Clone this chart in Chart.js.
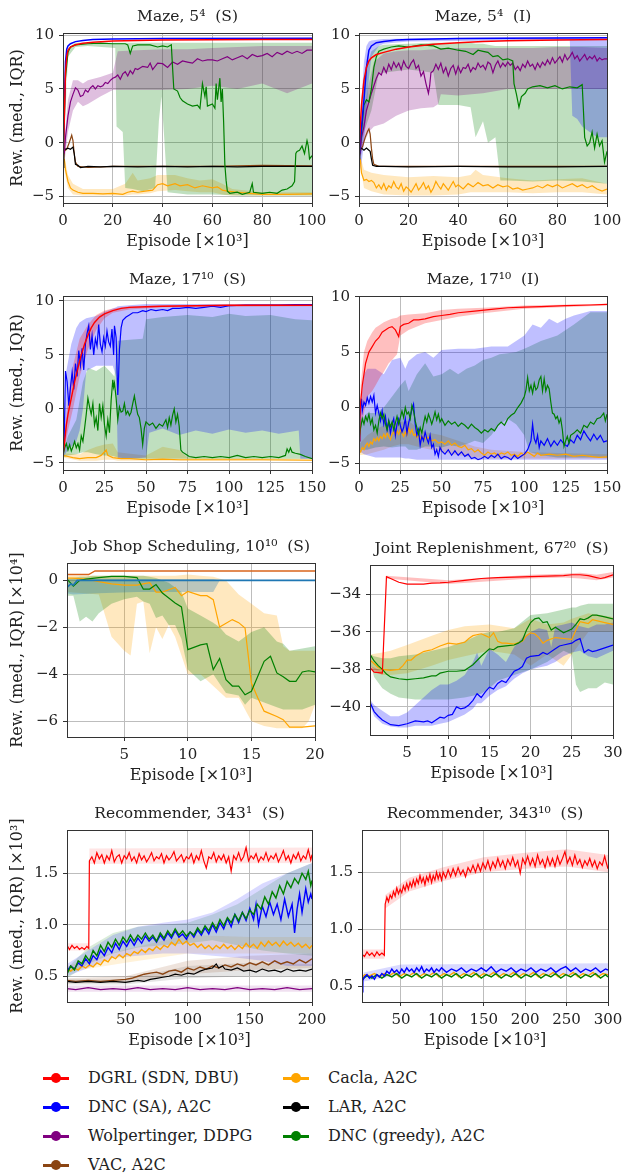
<!DOCTYPE html>
<html>
<head>
<meta charset="utf-8">
<script src="https://cdn.jsdelivr.net/npm/chart.js@4.4.1/dist/chart.umd.min.js"></script>
<style>
  html, body { margin: 0; padding: 0; background: #fff; }
  #page { position: relative; width: 630px; height: 1173px; overflow: hidden; font-family: 'DejaVu Serif', serif; color: #222; }
  #page canvas { position: absolute; }
  .leg { position: absolute; font-size: 16px; line-height: 20px; white-space: nowrap; }
  .leg .mk { position: absolute; left: 0; top: 0; width: 26px; height: 20px; }
  .leg .mk::before { content: ''; position: absolute; left: 0; right: 0; top: 9px; height: 2.5px; background: var(--c); }
  .leg .mk::after { content: ''; position: absolute; left: 8px; top: 5px; width: 10px; height: 10px; border-radius: 50%; background: var(--c); }
  .leg .txt { position: absolute; left: 45px; top: 0; }
</style>
</head>
<body>
<div id="page"></div>
<script>
// ---- ticks ----
const maze5XTicks = [0, 20, 40, 60, 80, 100];
const maze17XTicks = [0, 25, 50, 75, 100, 125, 150];
const mazeYTicks = [-5, 0, 5, 10];
const jssXTicks = [5, 10, 15, 20];
const jssYTicks = [-6, -4, -2, 0];
const jrXTicks = [5, 10, 15, 20, 25, 30];
const jrYTicks = [-40, -38, -36, -34];
const rec1XTicks = [50, 100, 150, 200];
const rec10XTicks = [50, 100, 150, 200, 250, 300];
const recYTicks = [0.5, 1.0, 1.5];

// ---- legend ----
const methodNames = ['DGRL (SDN, DBU)', 'DNC (SA), A2C', 'Wolpertinger, DDPG', 'VAC, A2C', 'Cacla, A2C', 'LAR, A2C', 'DNC (greedy), A2C'];

// ---- Maze 5^4 (S) : [episode, reward] / [episode, low, high] ----
const mz5S_red = [[0,-2.3],[0.5,2],[1,6.5],[1.5,8.0],[2,8.6],[3,8.9],[5,9.1],[8,9.25],[12,9.35],[20,9.45],[30,9.5],[40,9.55],[60,9.58],[80,9.6],[100,9.6]];
const mz5S_blue = [[0,-2.3],[0.5,3],[1,7.5],[1.5,8.7],[2,9.0],[3,9.2],[5,9.4],[8,9.5],[12,9.6],[20,9.65],[40,9.7],[100,9.72]];
const mz5S_purple = [[0.5,-1],[1,0.5],[2,2.5],[3,3.8],[4,4.5],[5,5.1],[6,4.9],[7,4.3],[8,4.4],[9,4.9],[10,4.7],[11,5.1],[12,5.3],[13,5.0],[14,5.3],[15,5.2],[16,5.3],[17,5.6],[18,5.5],[19,5.8],[20,6.0],[21,6.1],[22,6.3],[23,5.9],[24,6.4],[25,6.6],[26,6.2],[27,6.7],[28,6.4],[29,6.9],[30,6.8],[32,7.1],[34,7.0],[35,7.4],[36,6.8],[38,7.4],[40,7.35],[42,7.0],[44,7.5],[46,7.3],[48,7.6],[50,7.5],[52,7.4],[54,7.8],[56,7.6],[58,7.7],[60,7.7],[62,7.6],[64,7.8],[66,8.0],[68,7.7],[70,7.9],[72,8.1],[74,7.8],[76,8.2],[78,8.0],[80,8.1],[82,8.3],[84,8.0],[86,8.4],[88,8.2],[90,8.5],[92,8.3],[94,8.5],[96,8.3],[98,8.6],[100,8.6]];
const mz5S_green = [[0,-2.3],[1,6],[2,8.4],[3,8.9],[5,9.1],[10,9.2],[15,9.25],[20,9.2],[25,9.2],[26,9.1],[27,8.3],[28,9.0],[30,9.1],[35,9.1],[38,8.9],[40,9.0],[42,8.9],[43.5,9.1],[44,7],[44.5,5.0],[46,4.8],[47,4.2],[48,3.9],[50,3.6],[52,3.4],[54,3.5],[55,3.2],[56,5.5],[57,4.3],[57.5,5.2],[58,3.4],[60,3.6],[61,3.2],[61.5,5.5],[62,4.0],[63,6.0],[63.5,3.8],[64,5.0],[64.5,2],[65,-2.0],[65.5,-3.5],[66,-4.5],[67,-4.7],[70,-4.6],[72,-4.8],[75,-4.6],[76,-3.8],[76.5,-4.6],[80,-4.7],[83,-4.6],[86,-4.7],[88,-4.4],[90,-4.3],[92,-4.0],[93,-3.6],[93.5,-1.0],[94,-0.8],[95,-0.7],[96,-0.3],[97,-1.0],[98,0.2],[98.5,-0.3],[99,-1.5],[100,-1.2]];
const mz5S_orange = [[0.5,-1.5],[1,-2.5],[2,-3.6],[3,-4.2],[4,-4.4],[6,-4.6],[8,-4.7],[12,-4.7],[16,-4.75],[20,-4.7],[24,-4.8],[26,-4.6],[28,-4.5],[30,-4.6],[33,-4.5],[36,-4.4],[38,-3.9],[40,-3.8],[42,-4.0],[45,-3.8],[47,-4.0],[50,-3.9],[53,-4.2],[56,-4.0],[60,-4.2],[62,-4.1],[64,-4.4],[66,-4.5],[70,-4.6],[75,-4.7],[80,-4.8],[90,-4.8],[100,-4.75]];
const mz5S_black = [[0,-2.3],[0.3,-0.5],[1,-0.6],[2,-0.5],[3,-0.6],[4,-0.4],[4.5,-1.0],[5,-2.0],[6,-2.1],[7,-2.3],[10,-2.2],[15,-2.25],[20,-2.2],[30,-2.25],[40,-2.2],[50,-2.25],[60,-2.2],[70,-2.25],[80,-2.2],[90,-2.2],[100,-2.2]];
const mz5S_brown = [[0,-2.3],[0.5,-0.8],[1.5,-0.6],[2.5,0.0],[3.5,0.7],[4,0.2],[4.5,-1.0],[5,-1.8],[6,-2.2],[10,-2.3],[20,-2.2],[40,-2.2],[60,-2.2],[80,-2.1],[100,-2.15]];
const mz5S_purpleBand = [[0.5,-2,0],[2,1,4],[4,3,5.8],[6,3.8,5.8],[8,3.4,5.5],[10,3.6,5.8],[15,4.3,6.1],[20,4.9,6.5],[22,4.9,8.5],[30,4.9,8.6],[40,4.9,8.7],[50,5.0,8.7],[60,5.3,8.8],[70,5.0,8.9],[80,5.5,9.0],[90,4.6,9.0],[100,5.5,9.0]];
const mz5S_greenBand = [[0,-2.3,-2.3],[2,8.0,8.8],[5,8.9,9.3],[10,9.0,9.3],[21,8.8,9.3],[21.5,1.5,9.3],[24,1.0,9.3],[25,-4.2,9.3],[28,-4.3,9.3],[32,-4.5,9.3],[37,-4.2,9.3],[38.5,2.0,9.3],[39.5,4.3,9.3],[40.5,1.0,9.3],[42,-4.6,9.3],[50,-4.8,9.3],[60,-4.8,9.3],[70,-4.9,9.3],[80,-4.9,9.3],[90,-4.9,9.3],[100,-4.9,9.3]];
const mz5S_orangeBand = [[0.5,-2.5,-1.2],[2,-4.2,-3.0],[4,-4.8,-3.8],[8,-4.9,-4.3],[20,-4.9,-4.3],[25,-4.9,-3.8],[28,-4.8,-2.8],[30,-4.8,-3.5],[35,-4.7,-3.3],[38,-4.5,-3.0],[45,-4.4,-3.0],[50,-4.5,-3.3],[55,-4.6,-3.5],[60,-4.6,-3.4],[64,-4.8,-3.8],[68,-4.9,-4.3],[80,-4.9,-4.6],[100,-4.9,-4.6]];

// ---- Maze 5^4 (I) ----
const mz5I_red = [[0,-1.5],[0.5,1.5],[1,3.5],[2,5.8],[3,7.0],[4,7.6],[5,7.9],[7,8.2],[10,8.4],[15,8.7],[20,8.9],[30,9.15],[40,9.3],[50,9.4],[60,9.47],[80,9.55],[100,9.6]];
const mz5I_blue = [[0,-1.5],[0.5,0],[1,1.5],[2,4.0],[3,7.0],[4,8.6],[5,9.0],[7,9.3],[10,9.4],[15,9.55],[20,9.6],[30,9.65],[40,9.7],[100,9.75]];
const mz5I_green = [[0,-1.5],[1,1],[2,3.5],[3,4.0],[4,3.8],[5,5.0],[6,7.0],[7,8.0],[8,8.5],[10,8.7],[13,8.9],[16,9.0],[20,8.9],[25,9.1],[30,9.0],[33,8.7],[36,8.8],[40,8.6],[43,8.5],[46,8.2],[48,8.6],[50,8.5],[52,8.4],[54,8.0],[56,8.1],[58,7.7],[60,7.8],[62,7.6],[62.5,5.5],[63.5,4.5],[64.5,3.3],[65.5,4.3],[67,4.6],[68,5.0],[70,5.2],[73,5.3],[76,5.1],[79,5.3],[82,5.0],[85,5.2],[88,5.1],[90,5.4],[90.5,3],[91,0.5],[92,-0.3],[93,0],[94,1.0],[95,-0.5],[96,0.8],[97,-0.3],[98,0.2],[99,-1.8],[100,-0.8]];
const mz5I_purple = [[0.5,-1],[1,0.5],[2,1.5],[3,3],[4,3.8],[5,4.6],[6,5.3],[7,6.0],[8,6.5],[9,6.3],[10,7.0],[11,6.5],[12,7.3],[13,6.8],[14,7.5],[15,7.0],[16,7.4],[17,6.8],[18,7.6],[19,7.1],[20,6.9],[21,7.4],[22,7.7],[23,6.9],[24,7.2],[25,6.2],[26,6.6],[27,5.5],[28,4.6],[28.5,5.3],[29,6.5],[30,6.7],[31,7.3],[32,6.8],[33,7.4],[34,6.5],[35,7.0],[36,6.2],[37,6.9],[38,7.2],[39,6.4],[40,7.1],[41,6.5],[42,7.0],[43,6.9],[44,7.3],[45,6.6],[46,7.0],[47,6.8],[48,7.4],[49,7.0],[50,7.2],[51,6.8],[52,7.5],[53,7.3],[54,6.5],[55,7.2],[56,7.6],[57,7.0],[58,7.4],[59,7.1],[60,7.5],[61,7.2],[62,7.4],[63,6.8],[64,7.1],[65,6.7],[66,7.3],[67,7.0],[68,7.6],[69,7.1],[70,7.3],[71,6.8],[72,7.4],[73,7.0],[74,7.5],[75,7.2],[76,7.7],[77,7.3],[78,7.9],[79,7.4],[80,7.7],[81,8.0],[82,7.5],[83,8.2],[84,7.7],[85,8.0],[86,8.4],[87,7.8],[88,8.1],[89,7.6],[90,7.9],[91,8.2],[92,7.7],[93,8.0],[94,7.8],[95,8.1],[96,7.6],[97,7.9],[98,7.7],[99,7.8],[100,7.8]];
const mz5I_black = [[0,-1.5],[0.3,-0.6],[1,-0.5],[2,-0.7],[3,-0.5],[4,-0.7],[4.5,-0.8],[5,-1.5],[5.5,-2.1],[7,-2.2],[10,-2.2],[20,-2.25],[40,-2.2],[60,-2.25],[80,-2.25],[100,-2.2]];
const mz5I_brown = [[0,-1.5],[0.5,-0.8],[1.5,-0.3],[2.5,0.5],[3.5,1.1],[4,1.3],[4.5,0.8],[5,-0.5],[5.5,-1.5],[6,-2.0],[8,-2.2],[20,-2.2],[50,-2.2],[80,-2.2],[100,-2.2]];
const mz5I_orange = [[0.5,-1.5],[1,-2.8],[2,-3.5],[3,-3.4],[4,-3.6],[5,-3.5],[6,-3.7],[7,-4.2],[8,-3.9],[9,-4.3],[10,-3.8],[11,-4.4],[12,-4.0],[13,-4.2],[14,-3.6],[15,-4.1],[16,-4.3],[17,-3.8],[18,-4.5],[19,-4.1],[20,-4.3],[21,-4.6],[22,-4.2],[23,-3.8],[24,-4.4],[25,-4.1],[26,-3.7],[27,-4.3],[28,-4.0],[29,-4.6],[30,-4.2],[31,-3.6],[32,-4.0],[33,-4.3],[34,-3.8],[35,-4.1],[36,-4.4],[37,-4.0],[38,-3.6],[39,-4.1],[40,-3.9],[42,-4.3],[44,-3.8],[46,-4.1],[48,-3.7],[50,-4.0],[52,-3.9],[54,-4.2],[56,-3.9],[58,-4.1],[60,-4.0],[62,-4.3],[64,-4.2],[66,-4.4],[68,-4.3],[70,-4.2],[72,-4.0],[74,-4.2],[76,-3.9],[78,-4.1],[80,-3.9],[82,-4.2],[84,-4.0],[86,-3.8],[88,-4.1],[90,-3.9],[92,-4.2],[94,-4.0],[96,-4.3],[98,-4.5],[100,-4.3]];
const mz5I_blueBand = [[0,-3,-1],[1,-2,4],[2,0,7.5],[3,3,9.0],[4,6,9.4],[5,8,9.5],[8,9.0,9.6],[10,9.2,9.65],[20,9.4,9.7],[60,9.5,9.8],[85,9.5,9.8],[86,2.5,9.8],[88,2.2,9.8],[90,1.5,9.8],[93,1.0,9.8],[96,0.5,9.8],[100,0.5,9.8]];
const mz5I_greenBand = [[0,-1.5,-1.5],[2,1,6],[5,3,8.5],[8,6.5,9.0],[10,6.5,9.1],[20,6.8,9.2],[30,6.5,9.3],[32,3.5,9.3],[40,3.5,9.3],[45,3.3,9.3],[47,0.5,9.2],[50,2,9.2],[52,0,9.1],[55,0.5,9.0],[57,-3.5,9.0],[60,-3.5,9.0],[70,-3.6,9.0],[80,-3.5,9.0],[90,-3.6,9.0],[100,-3.8,9.0]];
const mz5I_purpleBand = [[0.5,-1.5,0],[2,0,3],[4,1,5.5],[6,1.5,7.5],[10,1.8,8.3],[15,2.5,8.5],[20,3.0,8.6],[25,3.2,8.6],[30,3.3,8.7],[32,3.6,8.7],[33,4.5,8.8],[40,4.4,8.8],[50,4.6,8.8],[60,5.0,8.8],[70,5.0,8.8],[80,5.0,8.9],[90,5.0,8.9],[100,5.0,8.8]];
const mz5I_orangeBand = [[0.5,-2,-1.2],[2,-4.2,-2.5],[5,-4.5,-2.8],[10,-4.8,-3.0],[20,-4.9,-3.2],[30,-4.9,-3.1],[40,-4.8,-3.2],[45,-4.6,-3.0],[47,-4.6,-2.5],[50,-4.6,-3.0],[60,-4.6,-3.3],[70,-4.7,-3.5],[80,-4.6,-3.4],[90,-4.6,-3.3],[100,-4.8,-3.8]];

// ---- Maze 17^10 (S) ----
const mz17S_red = [[0,-4.3],[1,-3],[2,-1.5],[3,-0.5],[5,1.0],[7,2.5],[9,3.8],[11,5.0],[13,6.0],[15,6.8],[17,7.5],[19,8.0],[22,8.5],[25,8.8],[30,9.1],[35,9.3],[40,9.4],[50,9.45],[60,9.5],[80,9.55],[100,9.6],[150,9.6]];
const mz17S_blue = [[0,-4.3],[0.7,-3],[1.5,3.5],[2.5,2.5],[3.5,0.3],[4.5,2.0],[5.5,3.4],[6.5,1.8],[7.5,4.2],[8.5,3.0],[9.5,5.4],[10.5,4.0],[11.5,5.6],[12.5,3.6],[13.5,6.0],[14.5,7.0],[15.5,7.7],[16.5,5.5],[17.5,6.8],[18.5,5.0],[19.5,6.5],[20.5,5.8],[21.5,7.8],[22.5,6.0],[23.5,5.3],[24.5,6.6],[25.5,5.8],[26.5,7.2],[27.5,6.2],[28.5,5.8],[29.5,7.4],[30.5,5.0],[31,7.7],[32,6.6],[33,1.3],[33.5,3.0],[34,5.5],[35,7.5],[36,8.2],[38,8.5],[40,8.7],[42,8.9],[45,8.9],[48,9.1],[50,9.0],[53,9.2],[56,9.1],[60,9.2],[63,9.1],[66,9.3],[70,9.3],[75,9.4],[80,9.3],[85,9.4],[90,9.5],[95,9.4],[100,9.55],[110,9.6],[120,9.6],[130,9.6],[140,9.65],[150,9.65]];
const mz17S_green = [[0,-4.3],[1,-3.6],[2,-3.2],[3,-3.8],[4,-3.3],[5,-3.9],[6,-3.5],[7,-3.0],[8,-3.6],[9,-3.2],[10,-3.8],[11,-2.5],[12,-3.0],[13,-1.8],[14,-0.5],[15,1.0],[16,0.2],[17,-0.5],[18,0.5],[19,-1.5],[20,-0.8],[21,-2.0],[22,0.5],[23,-0.8],[24,0.3],[25,-1.5],[26,-2.5],[27,-1.0],[28,-2.2],[29,0.8],[30,2.7],[30.5,2.0],[31,2.4],[32,1.0],[33,-1.0],[34,0.2],[35,-0.3],[36,-0.2],[37,0.5],[38,-0.5],[39,-0.2],[40,-0.6],[41,-0.3],[42,0.5],[43,1.2],[44,0.3],[45,-0.5],[46,-0.8],[47,-1.8],[48,-3.3],[49,-1.8],[50,-1.2],[52,-1.5],[54,-1.3],[56,-1.8],[58,-1.4],[60,-1.6],[62,-1.0],[63,-1.7],[64,-0.8],[65,-1.5],[66,-0.6],[67,0.0],[68,-1.2],[69,-0.5],[70,-1.6],[71,-3.8],[72,-4.0],[74,-4.2],[76,-4.4],[80,-4.5],[85,-4.4],[90,-4.5],[95,-4.4],[100,-4.5],[105,-4.3],[110,-4.5],[115,-4.4],[120,-4.5],[125,-4.4],[130,-4.5],[134,-4.3],[135,-3.7],[136,-4.0],[137,-3.6],[138,-4.0],[140,-4.1],[143,-4.2],[146,-4.4],[150,-4.6]];
const mz17S_orange = [[0,-4.3],[3,-4.4],[6,-4.5],[10,-4.6],[15,-4.5],[20,-4.5],[23,-4.3],[26,-3.8],[27,-4.3],[30,-4.5],[35,-4.6],[40,-4.6],[50,-4.7],[60,-4.65],[70,-4.7],[80,-4.7],[100,-4.7],[120,-4.7],[150,-4.75]];
const mz17S_redBand = [[0,-4.5,-4],[3,-2,1],[6,0,4],[10,3,6.5],[15,5.5,7.8],[20,7.3,8.7],[25,8.4,9.1],[30,8.9,9.3],[40,9.2,9.5],[60,9.4,9.6],[150,9.5,9.7]];
const mz17S_blueBand = [[0,-4.5,-4],[2,-4,3.5],[5,-3.5,6],[8,-3,7.5],[10,-2,8],[12,0,8.2],[14,3.5,8.4],[20,4.0,8.6],[25,4.0,9.0],[30,4.0,9.3],[32,3.0,9.4],[33,-4.6,9.5],[40,-4.6,9.6],[50,-4.5,9.7],[52,-2.2,9.7],[60,-1.8,9.7],[70,-2.4,9.7],[80,-2.0,9.7],[90,-2.3,9.7],[100,-1.9,9.7],[110,-2.2,9.7],[120,-2.0,9.7],[130,-2.3,9.7],[142,-2.0,9.7],[143,-4.6,9.7],[150,-4.6,9.7]];
const mz17S_greenBand = [[0,-4.5,-4],[3,-4.3,-2.5],[8,-4.2,-1.0],[12,-4.0,2.5],[15,-4.0,3.8],[20,-4.2,3.5],[25,-4.3,4.0],[28,-4.3,3.5],[31,-4.4,3.0],[33,-4.5,6.3],[40,-4.6,6.4],[48,-4.6,6.5],[50,-4.6,8.3],[60,-4.6,8.5],[75,-4.6,8.7],[90,-4.6,8.5],[100,-4.6,8.8],[110,-4.6,8.6],[125,-4.6,8.7],[140,-4.6,8.3],[150,-4.6,8.2]];
const mz17S_orangeBand = [[0,-4.5,-4.1],[10,-4.8,-4.2],[15,-4.8,-3.8],[20,-4.8,-3.5],[25,-4.7,-3.3],[30,-4.7,-3.2],[33,-4.8,-4.0],[50,-4.8,-4.3],[60,-4.8,-3.5],[70,-4.8,-3.8],[75,-4.8,-4.5],[150,-4.8,-4.6]];

// ---- Maze 17^10 (I) ----
const mz17I_red = [[0,-3],[0.5,-1],[1,0.5],[2,2.0],[3,3.0],[4,4.0],[5,4.5],[6,5.0],[8,5.5],[10,6.0],[12,6.3],[14,6.8],[16,7.0],[18,7.2],[20,7.3],[22,7.0],[24,6.4],[25,7.3],[27,7.5],[30,7.6],[33,7.9],[36,7.9],[40,8.0],[45,8.2],[50,8.3],[55,8.4],[60,8.55],[70,8.7],[80,8.85],[90,9.0],[100,9.05],[110,9.1],[125,9.2],[140,9.25],[150,9.3]];
const mz17I_blue = [[0,-3],[0.5,-1],[1,0.2],[1.5,0.8],[2,-0.3],[3,0.5],[4,0.2],[5,0.9],[6,0.4],[7,1.0],[8,0.5],[9,1.1],[10,-0.5],[11,0.2],[12,-0.5],[13,-1.2],[14,-0.3],[15,-1.5],[16,-0.8],[17,-2.0],[18,-1.2],[19,-2.3],[20,-1.5],[21,-1.0],[22,-2.5],[23,-1.5],[24,-1.0],[25,-1.6],[26,-2.2],[27,-1.8],[28,-1.0],[29,-2.3],[30,-1.4],[31,-0.8],[32,-0.2],[33,0.3],[34,-1.5],[35,-2.5],[36,-2.0],[37,-3.4],[38,-2.6],[39,-3.0],[40,-2.2],[41,-2.8],[42,-3.2],[43,-2.5],[44,-3.6],[45,-3.3],[46,-4.2],[47,-3.8],[48,-4.4],[49,-3.6],[50,-3.9],[52,-4.2],[54,-3.8],[56,-4.3],[58,-3.9],[60,-4.3],[62,-4.0],[64,-4.4],[66,-4.2],[68,-4.6],[70,-4.5],[72,-4.7],[74,-4.6],[76,-4.4],[78,-4.6],[80,-4.3],[82,-4.5],[84,-4.2],[86,-4.6],[88,-4.4],[90,-4.5],[92,-4.7],[94,-4.3],[96,-4.6],[98,-4.4],[100,-4.2],[102,-3.8],[104,-3.0],[105,-1.5],[106,-2.8],[107,-3.2],[108,-2.5],[109,-3.6],[110,-3.0],[112,-3.4],[114,-2.8],[116,-3.5],[118,-3.0],[120,-3.4],[122,-2.9],[124,-3.3],[126,-3.5],[128,-2.9],[130,-3.2],[132,-2.5],[134,-2.9],[136,-2.1],[138,-2.6],[140,-3.0],[142,-2.4],[144,-2.9],[146,-2.5],[148,-3.1],[150,-3.0]];
const mz17I_green = [[0,-3],[1,-1.8],[2,-1.0],[3,-1.5],[4,-0.8],[5,-1.2],[6,-0.6],[7,-1.5],[8,-1.0],[9,-2.0],[10,-1.6],[11,-2.3],[12,-1.2],[13,-0.5],[14,-1.0],[15,-0.6],[16,-1.5],[17,-2.0],[18,-1.2],[19,-1.7],[20,-1.3],[21,-2.0],[22,-1.4],[23,-0.8],[24,-1.5],[25,-0.9],[26,-0.3],[27,-0.9],[28,0.0],[29,-0.6],[30,-0.4],[31,-1.0],[32,0.2],[33,-0.3],[34,-1.2],[35,-1.8],[36,-2.4],[37,-1.8],[38,-2.3],[39,-1.5],[40,-0.8],[41,-1.3],[42,-0.6],[43,-1.0],[44,-1.5],[45,-1.0],[46,-0.4],[47,-1.1],[48,-0.6],[49,-1.3],[50,-1.0],[52,-1.6],[54,-1.2],[56,-1.5],[58,-1.3],[60,-1.7],[62,-1.4],[64,-1.6],[66,-1.9],[68,-1.5],[70,-1.8],[72,-2.0],[74,-2.3],[76,-2.0],[78,-2.2],[80,-1.9],[82,-2.1],[84,-1.6],[86,-1.3],[88,-1.6],[90,-1.0],[92,-0.7],[94,-0.5],[96,0.0],[98,0.4],[100,1.0],[101,1.6],[102,2.7],[103,1.5],[104,2.0],[105,1.3],[106,2.2],[107,1.6],[108,1.8],[109,2.5],[110,2.8],[111,1.5],[112,2.6],[113,1.5],[114,2.0],[115,1.7],[116,0.5],[117,-0.5],[118,-0.6],[119,-1.0],[120,-0.8],[121,-1.4],[122,-1.0],[123,-2.0],[124,-3.5],[125,-3.0],[126,-2.6],[127,-3.2],[128,-2.5],[130,-2.3],[132,-2.0],[134,-2.3],[136,-1.6],[138,-1.8],[140,-1.3],[142,-1.5],[144,-1.0],[146,-0.9],[148,-0.5],[149,-1.2],[150,-0.6]];
const mz17I_orange = [[0,-3.8],[1,-4.0],[2,-3.6],[3,-3.8],[4,-3.4],[5,-3.2],[6,-3.5],[7,-3.1],[8,-3.3],[9,-2.8],[10,-3.0],[11,-2.7],[12,-3.0],[13,-2.6],[14,-2.8],[15,-2.4],[16,-2.7],[17,-2.3],[18,-2.6],[19,-2.9],[20,-2.4],[21,-2.2],[22,-2.5],[23,-2.1],[24,-2.4],[25,-2.0],[26,-2.3],[27,-2.6],[28,-2.2],[29,-2.5],[30,-1.8],[31,-2.3],[32,-2.0],[33,-2.5],[34,-2.4],[35,-2.7],[36,-2.5],[37,-2.8],[38,-2.6],[40,-2.8],[42,-2.7],[44,-3.0],[46,-2.9],[48,-3.2],[50,-3.1],[52,-3.3],[54,-3.0],[56,-3.4],[58,-3.2],[60,-3.5],[62,-3.6],[64,-3.4],[66,-3.8],[68,-3.7],[70,-4.0],[72,-3.8],[74,-4.1],[76,-4.3],[78,-4.0],[80,-4.2],[82,-4.1],[84,-4.3],[86,-4.1],[88,-4.2],[90,-4.0],[92,-4.3],[94,-4.2],[96,-4.4],[98,-4.1],[100,-4.3],[102,-4.0],[104,-4.2],[106,-4.4],[108,-4.1],[110,-4.3],[115,-4.2],[120,-4.3],[125,-4.2],[130,-4.4],[135,-4.3],[140,-4.4],[145,-4.5],[150,-4.45]];
const mz17I_redBand = [[0,-3.5,-2.5],[1,-2,2],[3,-0.5,5.0],[5,1.0,6.0],[8,1.5,6.8],[10,2.0,7.2],[13,2.8,7.5],[15,3.2,7.7],[18,4.0,7.9],[20,4.3,8.0],[23,4.8,8.1],[25,6.5,8.3],[30,7.0,8.4],[40,7.6,8.5],[50,7.9,8.8],[60,8.2,8.9],[75,8.5,9.0],[100,8.9,9.2],[150,9.2,9.35]];
const mz17I_blueBand = [[0,-3.5,-2.5],[1,-4,0],[3,-4.2,3.0],[5,-4.3,3.5],[10,-4.5,3.5],[15,-4.5,3.0],[20,-4.5,4.3],[25,-4.5,4.5],[28,-4.6,3.5],[30,-4.6,4.2],[35,-4.7,4.8],[40,-4.7,5.0],[45,-4.7,4.5],[50,-4.7,5.2],[60,-4.7,5.3],[70,-4.7,5.3],[80,-4.7,5.5],[90,-4.7,5.5],[95,-4.7,6.0],[100,-4.7,6.5],[105,-4.7,7.5],[110,-4.7,7.2],[115,-4.7,8.0],[120,-4.7,7.6],[125,-4.7,8.0],[130,-4.7,8.3],[135,-4.7,8.5],[140,-4.7,8.7],[150,-4.7,8.7]];
const mz17I_greenBand = [[0,-4,-2.5],[2,-3.8,-1.0],[5,-3.8,-0.5],[10,-3.6,-0.5],[15,-3.5,0],[20,-3.6,1.0],[25,-3.5,2.0],[28,-3.5,2.5],[30,-3.8,1.5],[35,-3.8,3.0],[40,-3.5,4.0],[45,-3.5,2.8],[50,-3.6,3.0],[55,-3.4,3.5],[60,-3.5,3.0],[65,-3.3,3.5],[70,-3.0,3.8],[75,-3.2,4.3],[80,-2.5,4.5],[85,-1.5,4.8],[90,-1.0,4.9],[95,-1.5,5.0],[100,-2.5,5.3],[103,-4.0,5.5],[110,-4.3,6.0],[120,-4.5,6.5],[130,-4.5,7.5],[140,-4.5,8.6],[150,-4.5,8.6]];
const mz17I_orangeBand = [[0,-4.3,-3.3],[5,-4.2,-2.5],[10,-4.0,-2.0],[15,-3.8,-1.6],[20,-3.5,-1.5],[25,-3.3,-1.3],[30,-3.3,-1.2],[35,-3.5,-1.8],[40,-3.7,-2.2],[50,-4.0,-2.5],[60,-4.3,-3.0],[70,-4.5,-3.5],[80,-4.6,-3.8],[100,-4.6,-4.0],[150,-4.6,-4.2]];

// ---- Job Shop Scheduling 10^10 (S), reward x 10^4 ----
const jss_ref1 = [[0.5,0.25],[2.2,0.25],[2.7,0.4],[20,0.4]];
const jss_ref0 = [[0.5,-0.3],[0.8,-0.15],[1.0,-0.2],[1.3,0.0],[20,0.0]];
const jss_ref0Band = [[0.5,-0.55,0.05],[1,-0.6,0.05],[3,-0.55,0.05],[6,-0.5,0.05],[9,-0.5,0.05],[12,-0.5,0.05],[12.5,0,0],[20,0,0]];
const jss_green = [[0.5,0.05],[1,-0.25],[1.5,0],[2,0.05],[3,0.12],[4,0.17],[5,0.17],[6,0.12],[6.5,-0.37],[7,-0.37],[7.5,-0.18],[8,-0.54],[8.5,-0.75],[9,-0.96],[9.5,-1.13],[10,-2.95],[11,-2.75],[11.5,-2.7],[12,-3.8],[12.5,-3.33],[13,-4.23],[13.5,-4.5],[14,-4.5],[14.5,-4.87],[15,-4.72],[16,-3.45],[16.5,-3.23],[17,-3.94],[17.5,-4.1],[18,-4.3],[18.5,-4.3],[19,-3.9],[19.5,-3.85],[20,-3.9]];
const jss_orange = [[0.5,0.1],[1,0.1],[2,0.05],[3,-0.05],[4,-0.15],[5,-0.2],[6,-0.2],[6.5,-0.15],[7,-0.1],[7.5,-0.5],[8,-0.5],[8.5,-0.4],[9,-0.3],[9.5,-0.65],[10,-0.47],[11,-0.65],[11.5,-0.65],[12,-0.82],[12.5,-1.99],[13.5,-1.67],[14,-1.8],[14.5,-2.03],[15,-4.37],[15.5,-5.0],[16,-5.57],[17,-5.8],[17.5,-5.93],[18,-6.25],[19,-6.25],[20,-6.2]];
const jss_greenBand = [[0.5,-0.65,0.05],[1,-0.65,0.1],[1.5,-1.75,0.15],[2,-1.55,0.15],[2.5,-1.75,0.2],[3,-1.4,0.2],[4,-1.0,0.2],[5,-0.8,0.2],[6,-0.7,0.2],[6.5,-0.9,0.2],[7,-1.0,0.15],[7.5,-1.6,0.1],[8,-1.5,0.0],[8.5,-1.9,-0.1],[9,-1.9,-0.3],[9.5,-2.5,-0.5],[10,-3.8,-1.2],[11,-4.3,-1.5],[12,-4.0,-1.8],[12.5,-4.4,-2.0],[13,-4.8,-2.3],[14,-4.9,-2.6],[14.5,-5.3,-2.4],[15,-5.0,-2.2],[16,-5.2,-2.0],[17,-5.4,-2.6],[17.5,-5.5,-2.7],[18,-5.5,-3.0],[19,-5.5,-2.9],[20,-5.3,-2.8]];
const jss_orangeBand = [[0.5,-0.5,0.2],[3,-0.6,0.2],[4,-2.4,0.2],[5,-3.0,0.2],[5.5,-3.2,0.2],[6,-1.0,0.2],[6.5,-0.9,0.2],[7,-3.1,0.2],[7.5,-2.0,0.2],[8,-2.5,0.2],[8.5,-1.9,0.2],[9,-2.4,0.2],[10,-4.0,0.25],[11,-4.0,0.2],[12,-4.5,0.15],[13,-5.0,0.0],[14,-5.0,-0.6],[15,-6.0,-1.0],[16,-6.2,-1.4],[17,-6.3,-1.5],[17.5,-6.3,-2.8],[18,-6.3,-3.0],[19,-6.3,-3.0],[19.5,-6.0,-3.0],[20,-5.3,-3.0]];

// ---- Joint Replenishment 67^20 (S) ----
const jr_red = [[0.5,-37.9],[1,-38.15],[2,-38.2],[2.5,-33.05],[3,-33.15],[4,-33.35],[5,-33.45],[6,-33.45],[7,-33.45],[8,-33.4],[9,-33.38],[10,-33.35],[12,-33.25],[14,-33.15],[16,-33.1],[18,-33.08],[20,-33.05],[22,-33.02],[24,-33.0],[25,-32.95],[26,-32.95],[27,-33.0],[28,-33.1],[28.5,-33.15],[29,-33.1],[30,-32.95]];
const jr_blue = [[0.5,-39.75],[1,-40.25],[1.5,-40.5],[2,-40.7],[3,-40.95],[4,-41.0],[5,-40.9],[6,-40.75],[7,-40.8],[7.5,-40.75],[8,-40.85],[8.5,-40.7],[9,-40.55],[9.5,-40.6],[10,-40.45],[10.5,-40.4],[11,-40.0],[11.5,-40.1],[12,-40.05],[12.5,-39.9],[13,-39.65],[13.5,-39.3],[14,-39.5],[14.5,-39.2],[15,-38.95],[15.5,-39.05],[16,-38.75],[16.5,-38.6],[17,-38.7],[17.5,-38.4],[18,-38.1],[18.5,-38.0],[19,-37.85],[19.5,-37.4],[20,-37.3],[21,-37.25],[21.5,-37.1],[22,-37.2],[23,-36.9],[23.5,-36.75],[24,-36.7],[25,-36.6],[25.5,-36.45],[26,-36.35],[26.5,-37.1],[27,-36.95],[27.5,-37.05],[28,-37.0],[29,-36.85],[30,-36.7]];
const jr_green = [[0.5,-37.2],[1,-37.55],[1.5,-37.8],[2,-38.0],[2.5,-38.25],[3,-38.4],[4,-38.5],[5,-38.55],[6,-38.5],[7,-38.45],[8,-38.35],[8.5,-38.35],[9,-38.2],[10,-38.1],[11,-38.1],[12,-38.05],[12.5,-37.9],[13,-37.75],[14,-37.3],[15,-36.9],[15.5,-36.95],[16,-36.8],[17,-36.75],[18,-36.7],[18.5,-36.6],[19,-36.45],[19.5,-35.9],[20,-35.5],[20.5,-35.3],[21,-35.25],[21.5,-35.5],[22,-35.45],[22.5,-35.9],[23,-35.75],[24,-36.05],[25,-35.85],[25.5,-35.6],[26,-35.3],[26.5,-35.35],[27,-35.25],[27.5,-35.1],[28,-35.1],[29,-35.2],[30,-35.3]];
const jr_orange = [[0.5,-37.5],[1,-37.7],[1.5,-37.9],[2,-38.0],[3,-38.05],[4,-38.0],[4.5,-37.8],[5,-37.5],[5.5,-37.5],[6,-37.3],[7,-37.05],[7.5,-37.0],[8,-36.95],[9,-36.75],[10,-36.6],[11,-36.65],[12,-36.55],[12.5,-36.35],[13,-36.2],[14,-36.1],[14.5,-36.2],[15,-36.3],[15.5,-36.05],[16,-36.5],[16.5,-36.6],[17,-36.6],[18,-36.65],[19,-36.5],[19.5,-36.2],[20,-36.05],[20.5,-36.1],[21,-36.3],[21.5,-36.6],[22,-36.45],[23,-36.3],[24,-36.35],[25,-36.4],[25.5,-35.9],[26,-35.45],[26.5,-35.5],[27,-35.55],[27.5,-35.35],[28,-35.4],[29,-35.5],[30,-35.6]];
const jr_redBand = [[0.5,-38.0,-37.8],[2,-38.3,-38.1],[2.5,-33.15,-33.0],[10,-33.45,-33.25],[20,-33.15,-32.95],[24,-33.1,-32.9],[26,-33.15,-32.85],[28,-33.25,-32.95],[30,-33.1,-32.8]];
const jr_blueBand = [[0.5,-39.9,-39.6],[1,-40.5,-39.9],[2,-40.9,-40.2],[3,-41.05,-40.5],[4,-41.1,-40.5],[5,-41.1,-40.3],[6,-41.0,-39.9],[7,-41.0,-39.5],[8,-41.0,-39.1],[9,-40.9,-38.8],[10,-40.8,-38.8],[11,-40.6,-38.6],[12,-40.4,-38.3],[13,-40.1,-37.6],[13.5,-39.8,-37.1],[14,-39.8,-37.8],[15,-39.4,-36.9],[16,-39.1,-37.2],[17,-38.9,-37.6],[18,-38.5,-36.8],[19,-38.2,-36.3],[20,-38.0,-36.0],[21,-37.9,-35.8],[22,-37.8,-35.9],[22.5,-37.7,-36.8],[23,-37.6,-35.7],[24,-37.3,-35.6],[25,-37.1,-35.5],[26,-37.0,-35.7],[27,-37.3,-35.8],[28,-37.4,-35.6],[29,-37.2,-35.6],[30,-37.0,-35.5]];
const jr_greenBand = [[0.5,-37.6,-37.2],[1,-38.4,-37.3],[2,-39.0,-37.4],[3,-39.3,-37.4],[4,-39.5,-37.3],[6,-39.6,-37.2],[8,-39.6,-37.0],[10,-39.6,-36.8],[12,-39.5,-36.5],[13,-39.4,-36.3],[14,-39.3,-36.1],[15,-39.0,-36.0],[16,-38.6,-36.0],[18,-38.3,-35.8],[20,-38.0,-35.1],[22,-37.6,-35.0],[24,-37.0,-34.8],[25,-37.2,-34.7],[25.5,-38.8,-34.7],[26,-39.2,-34.6],[27,-39.0,-34.5],[28,-39.0,-34.5],[29,-38.7,-34.5],[30,-38.8,-34.5]];
const jr_orangeBand = [[0.5,-37.8,-37.2],[2,-38.3,-37.1],[3,-38.3,-37.0],[5,-38.2,-36.7],[8,-37.8,-36.2],[10,-37.5,-35.9],[12,-37.3,-35.7],[15,-37.0,-35.6],[18,-37.2,-35.8],[20,-37.8,-35.3],[22,-37.2,-35.6],[24,-37.8,-35.5],[25,-37.2,-35.3],[27,-36.0,-35.0],[30,-36.0,-35.2]];

// ---- Recommender 343^1 (S), reward x 10^3 ----
const rec1_red = [[3,0.8],[5,0.76],[7,0.8],[9,0.77],[11,0.79],[13,0.76],[15,0.78],[17,0.76],[19,0.79],[20.5,0.77],[21,1.62],[23,1.66],[25,1.6],[27,1.7],[29,1.64],[31,1.68],[33,1.6],[35,1.67],[37,1.63],[39,1.72],[41,1.61],[43,1.66],[45,1.68],[47,1.6],[49,1.67],[51,1.64],[53,1.7],[55,1.62],[57,1.66],[59,1.6],[61,1.69],[63,1.63],[65,1.67],[67,1.61],[69,1.65],[71,1.7],[73,1.62],[75,1.66],[77,1.64],[79,1.69],[81,1.6],[83,1.67],[85,1.63],[87,1.66],[89,1.71],[91,1.62],[93,1.65],[95,1.68],[97,1.61],[99,1.66],[101,1.64],[103,1.69],[105,1.6],[107,1.67],[109,1.63],[111,1.72],[113,1.62],[115,1.55],[117,1.66],[119,1.64],[121,1.7],[123,1.61],[125,1.67],[127,1.63],[129,1.68],[131,1.6],[133,1.66],[135,1.52],[137,1.67],[139,1.63],[141,1.7],[143,1.62],[145,1.66],[147,1.75],[149,1.62],[151,1.67],[153,1.64],[155,1.69],[157,1.61],[159,1.66],[161,1.63],[163,1.7],[165,1.62],[167,1.67],[169,1.64],[171,1.69],[173,1.61],[175,1.66],[177,1.72],[179,1.63],[181,1.67],[183,1.6],[185,1.68],[187,1.64],[189,1.7],[191,1.62],[193,1.67],[195,1.64],[197,1.73],[199,1.63],[200,1.68]];
const rec1_blue = [[3,0.55],[6,0.6],[9,0.57],[12,0.63],[15,0.6],[18,0.67],[21,0.62],[24,0.7],[27,0.66],[30,0.75],[33,0.7],[36,0.78],[39,0.73],[42,0.82],[45,0.76],[48,0.84],[51,0.79],[54,0.86],[57,0.8],[60,0.87],[63,0.82],[66,0.89],[69,0.84],[72,0.88],[75,0.83],[78,0.9],[81,0.85],[84,0.92],[87,0.87],[90,0.94],[93,0.88],[96,0.91],[99,0.86],[102,0.93],[105,0.88],[108,0.95],[111,0.9],[114,0.97],[117,0.91],[120,1.0],[123,0.93],[126,1.02],[129,0.96],[132,1.06],[135,0.98],[138,1.1],[141,1.02],[144,1.12],[147,1.04],[150,1.16],[153,1.05],[155,1.2],[157,1.0],[160,1.18],[163,1.08],[166,1.22],[169,1.1],[172,1.2],[175,1.05],[178,1.25],[181,1.08],[184,1.2],[186,0.92],[188,1.15],[190,1.3],[192,1.12],[195,1.35],[197,1.22],[199,1.3],[200,1.25]];
const rec1_green = [[3,0.52],[6,0.6],[9,0.56],[12,0.65],[15,0.62],[18,0.7],[21,0.65],[24,0.75],[27,0.7],[30,0.8],[33,0.74],[36,0.83],[39,0.78],[42,0.86],[45,0.8],[48,0.88],[51,0.83],[54,0.9],[57,0.84],[60,0.9],[63,0.86],[66,0.92],[69,0.86],[72,0.9],[75,0.84],[78,0.92],[81,0.87],[84,0.94],[87,0.89],[90,0.96],[93,0.9],[96,0.94],[99,0.89],[102,0.93],[105,0.9],[108,0.97],[111,0.92],[114,0.99],[117,0.94],[120,1.02],[123,0.96],[126,1.05],[129,0.99],[132,1.07],[135,1.02],[138,1.1],[141,1.04],[144,1.12],[147,1.06],[150,1.14],[153,1.1],[156,1.2],[159,1.15],[162,1.27],[165,1.2],[168,1.32],[171,1.26],[174,1.38],[177,1.3],[180,1.42],[183,1.36],[186,1.45],[189,1.4],[192,1.5],[195,1.44],[197,1.52],[199,1.38],[200,1.43]];
const rec1_orange = [[3,0.57],[6,0.55],[9,0.58],[12,0.56],[15,0.6],[18,0.58],[21,0.61],[24,0.59],[27,0.63],[30,0.61],[33,0.66],[36,0.64],[39,0.69],[42,0.67],[45,0.71],[48,0.68],[51,0.72],[54,0.7],[57,0.74],[60,0.72],[63,0.76],[66,0.73],[69,0.77],[72,0.75],[75,0.79],[78,0.76],[81,0.8],[84,0.78],[87,0.83],[90,0.8],[93,0.86],[96,0.81],[99,0.84],[102,0.8],[105,0.82],[108,0.78],[111,0.81],[114,0.77],[117,0.8],[120,0.76],[123,0.8],[126,0.77],[129,0.81],[132,0.77],[135,0.8],[138,0.76],[141,0.8],[144,0.77],[147,0.82],[150,0.78],[153,0.81],[156,0.77],[159,0.83],[162,0.79],[165,0.84],[168,0.8],[171,0.83],[174,0.79],[177,0.84],[180,0.8],[183,0.83],[186,0.79],[189,0.82],[192,0.78],[195,0.81],[198,0.77],[200,0.8]];
const rec1_brown = [[3,0.46],[10,0.45],[20,0.46],[30,0.45],[40,0.46],[50,0.47],[55,0.48],[60,0.5],[65,0.52],[70,0.53],[75,0.54],[80,0.52],[85,0.55],[90,0.56],[95,0.54],[100,0.58],[105,0.56],[110,0.59],[115,0.57],[120,0.6],[125,0.58],[130,0.61],[135,0.59],[140,0.62],[145,0.6],[150,0.63],[155,0.61],[160,0.64],[165,0.61],[170,0.65],[175,0.62],[180,0.64],[185,0.62],[190,0.66],[195,0.63],[200,0.67]];
const rec1_black = [[3,0.45],[10,0.44],[20,0.45],[30,0.44],[40,0.45],[50,0.44],[55,0.45],[60,0.46],[65,0.45],[70,0.47],[75,0.48],[80,0.49],[85,0.5],[90,0.52],[95,0.51],[100,0.53],[105,0.52],[110,0.55],[115,0.57],[120,0.58],[123,0.62],[125,0.58],[128,0.6],[130,0.57],[135,0.56],[140,0.58],[145,0.55],[150,0.56],[155,0.54],[160,0.57],[165,0.55],[170,0.56],[175,0.54],[180,0.57],[185,0.55],[190,0.56],[195,0.55],[200,0.57]];
const rec1_purple = [[3,0.38],[10,0.37],[20,0.39],[30,0.37],[40,0.38],[50,0.37],[60,0.39],[70,0.37],[80,0.38],[90,0.37],[100,0.39],[110,0.37],[120,0.38],[130,0.37],[140,0.39],[150,0.37],[160,0.38],[170,0.37],[180,0.39],[190,0.37],[200,0.38]];
const rec1_redBand = [[3,0.75,0.82],[20.5,0.75,0.82],[21,1.59,1.74],[200,1.6,1.75]];
const rec1_blueBand = [[3,0.5,0.62],[20,0.58,0.75],[40,0.68,0.9],[60,0.7,0.98],[80,0.72,1.02],[100,0.72,1.05],[120,0.7,1.12],[140,0.68,1.25],[160,0.65,1.4],[180,0.6,1.5],[200,0.6,1.6]];
const rec1_greenBand = [[3,0.48,0.58],[20,0.62,0.78],[40,0.72,0.92],[60,0.78,0.98],[80,0.8,1.0],[100,0.82,1.02],[120,0.85,1.1],[140,0.8,1.2],[160,0.75,1.35],[180,0.72,1.5],[200,0.7,1.6]];
const rec1_orangeBand = [[3,0.54,0.6],[50,0.63,0.76],[100,0.72,0.9],[150,0.72,0.88],[200,0.72,0.88]];
const rec1_brownBand = [[3,0.43,0.48],[50,0.44,0.5],[100,0.52,0.65],[150,0.56,0.7],[200,0.58,0.72]];
const rec1_blackBand = [[3,0.42,0.47],[50,0.42,0.47],[100,0.48,0.6],[150,0.5,0.63],[200,0.5,0.62]];
const rec1_purpleBand = [[3,0.35,0.41],[200,0.35,0.41]];

// ---- Recommender 343^10 (S), reward x 10^3 ----
const rec10_red = [[3,0.78],[6,0.76],[9,0.8],[12,0.77],[15,0.79],[18,0.76],[21,0.8],[24,0.77],[27,0.79],[30,0.77],[31,1.22],[33,1.28],[35,1.24],[37,1.3],[39,1.27],[41,1.33],[43,1.29],[45,1.36],[47,1.31],[49,1.35],[51,1.32],[53,1.38],[55,1.34],[57,1.4],[59,1.35],[61,1.41],[63,1.37],[65,1.43],[67,1.38],[69,1.44],[71,1.4],[73,1.47],[75,1.41],[77,1.45],[79,1.39],[81,1.46],[83,1.42],[85,1.48],[87,1.41],[89,1.47],[91,1.43],[93,1.5],[95,1.44],[97,1.49],[99,1.43],[101,1.5],[104,1.45],[107,1.52],[110,1.46],[113,1.53],[116,1.47],[119,1.54],[122,1.48],[125,1.52],[128,1.46],[131,1.54],[134,1.5],[137,1.56],[140,1.5],[143,1.57],[146,1.51],[149,1.58],[152,1.53],[155,1.6],[158,1.52],[161,1.59],[164,1.54],[167,1.62],[170,1.55],[173,1.6],[176,1.53],[179,1.61],[182,1.56],[185,1.63],[188,1.55],[191,1.6],[194,1.49],[197,1.62],[200,1.57],[203,1.64],[206,1.56],[209,1.62],[212,1.55],[215,1.65],[218,1.57],[221,1.61],[224,1.54],[227,1.63],[230,1.56],[233,1.62],[236,1.55],[239,1.64],[242,1.57],[245,1.62],[248,1.68],[251,1.58],[254,1.63],[257,1.56],[260,1.65],[263,1.57],[266,1.61],[269,1.54],[272,1.6],[275,1.56],[278,1.62],[281,1.55],[284,1.6],[287,1.53],[290,1.59],[293,1.56],[296,1.64],[298,1.58],[300,1.53]];
const rec10_blue = [[3,0.45],[4,0.55],[6,0.58],[9,0.6],[12,0.57],[15,0.59],[18,0.56],[21,0.6],[24,0.58],[27,0.61],[30,0.59],[33,0.63],[36,0.61],[39,0.65],[42,0.62],[45,0.64],[48,0.61],[51,0.65],[54,0.62],[57,0.66],[60,0.63],[63,0.65],[66,0.62],[69,0.66],[72,0.63],[75,0.67],[78,0.62],[81,0.65],[84,0.63],[87,0.66],[90,0.62],[93,0.65],[96,0.63],[99,0.66],[105,0.62],[111,0.65],[117,0.63],[123,0.66],[129,0.62],[135,0.65],[141,0.63],[147,0.66],[153,0.63],[159,0.67],[165,0.62],[171,0.65],[177,0.63],[183,0.66],[189,0.62],[195,0.65],[201,0.63],[207,0.66],[213,0.62],[219,0.65],[225,0.63],[231,0.66],[237,0.62],[243,0.65],[249,0.67],[255,0.63],[261,0.66],[267,0.62],[273,0.65],[279,0.63],[285,0.66],[291,0.62],[297,0.65],[300,0.64]];
const rec10_green = [[3,0.55],[5,0.57],[9,0.59],[15,0.57],[21,0.6],[27,0.57],[33,0.6],[39,0.58],[45,0.61],[51,0.57],[57,0.6],[63,0.58],[69,0.61],[75,0.57],[81,0.6],[87,0.58],[93,0.61],[99,0.57],[105,0.6],[111,0.58],[117,0.61],[123,0.57],[129,0.6],[135,0.58],[141,0.61],[147,0.57],[153,0.6],[159,0.58],[165,0.61],[171,0.57],[177,0.6],[183,0.58],[189,0.61],[195,0.57],[201,0.6],[207,0.58],[213,0.61],[219,0.57],[225,0.6],[231,0.58],[237,0.61],[243,0.57],[249,0.6],[255,0.58],[261,0.61],[267,0.57],[273,0.6],[279,0.58],[285,0.61],[291,0.57],[297,0.6],[300,0.58]];
const rec10_orange = [[3,0.57],[6,0.6],[12,0.59],[18,0.61],[24,0.58],[30,0.61],[36,0.59],[42,0.62],[48,0.58],[54,0.61],[60,0.59],[66,0.62],[72,0.58],[78,0.61],[84,0.59],[90,0.62],[96,0.58],[102,0.61],[108,0.59],[114,0.62],[120,0.58],[126,0.61],[132,0.59],[138,0.62],[144,0.58],[150,0.61],[156,0.59],[162,0.62],[168,0.58],[174,0.61],[180,0.59],[186,0.62],[192,0.58],[198,0.61],[204,0.59],[210,0.62],[216,0.58],[222,0.61],[228,0.59],[234,0.62],[240,0.58],[246,0.61],[252,0.59],[258,0.62],[264,0.58],[270,0.61],[276,0.59],[282,0.62],[288,0.58],[294,0.61],[300,0.6]];
const rec10_redBand = [[3,0.74,0.82],[30,0.74,0.82],[31,1.18,1.3],[60,1.33,1.45],[100,1.42,1.54],[150,1.5,1.63],[200,1.53,1.67],[250,1.55,1.7],[300,1.5,1.65]];
const rec10_blueBand = [[3,0.43,0.5],[5,0.54,0.62],[50,0.6,0.69],[300,0.6,0.7]];

// ---- styling ----
const FONT = 'DejaVu Serif';
const INK = '#222222';
const COL = { red: '#ff0000', blue: '#0000ff', purple: '#800080', brown: '#8b4513', orange: '#ffa500', black: '#000000', green: '#008000', c0: '#1f77b4', c1: '#d9651c' };

function rgba(hex, a) {
  const n = parseInt(hex.slice(1), 16);
  return `rgba(${(n >> 16) & 255}, ${(n >> 8) & 255}, ${n & 255}, ${a})`;
}

function line(pts, color, w) {
  return {
    data: pts.map(p => ({ x: p[0], y: p[1] })),
    borderColor: color, borderWidth: w || 1.2,
    pointRadius: 0, fill: false, tension: 0, order: 0
  };
}

function band(pts, color, a) {
  return [
    { data: pts.map(p => ({ x: p[0], y: p[1] })), borderWidth: 0, borderColor: 'rgba(0,0,0,0)', pointRadius: 0, fill: false, order: 2 },
    { data: pts.map(p => ({ x: p[0], y: p[2] })), borderWidth: 0, borderColor: 'rgba(0,0,0,0)', pointRadius: 0, fill: '-1', backgroundColor: rgba(color, a), order: 2 }
  ];
}

function fmt(v, dec) {
  const s = Math.abs(v).toFixed(dec);
  return v < 0 ? '\u2212' + s : s;
}

// full box around the plot area
const frame = {
  id: 'frame',
  afterDraw(chart) {
    const { ctx, chartArea: a } = chart;
    ctx.save();
    ctx.strokeStyle = '#333';
    ctx.lineWidth = 1;
    ctx.strokeRect(Math.floor(a.left) + 0.5, Math.floor(a.top) + 0.5, Math.round(a.right - a.left), Math.round(a.bottom - a.top));
    ctx.restore();
  }
};

const page = document.getElementById('page');
const TITLE_H = 30, XAX_H = 50, PAD_R = 18;

function panel(p) {
  const cl = p.box.l - p.yW;
  const ct = p.box.t - TITLE_H;
  const w = p.box.r - cl + PAD_R;
  const h = (p.box.b - p.box.t) + TITLE_H + XAX_H;
  const cv = document.createElement('canvas');
  cv.width = w; cv.height = h;
  cv.style.left = cl + 'px'; cv.style.top = ct + 'px';
  cv.style.width = w + 'px'; cv.style.height = h + 'px';
  page.appendChild(cv);

  const tickFont = { family: FONT, size: 15 };
  const labFont = { family: FONT, size: 16, lineHeight: '18px' };
  new Chart(cv.getContext('2d'), {
    type: 'line',
    data: { datasets: p.datasets },
    options: {
      responsive: false,
      animation: false,
      events: [],
      layout: { padding: { left: 0, right: PAD_R, top: 0, bottom: 0 } },
      plugins: {
        legend: { display: false },
        tooltip: { enabled: false },
        title: {
          display: true, text: p.title, color: INK, fullSize: false,
          font: { family: FONT, size: 15.5, weight: 'normal', lineHeight: '18px' },
          padding: { top: 5, bottom: 7 }
        }
      },
      scales: {
        x: {
          type: 'linear', min: p.xr[0], max: p.xr[1],
          afterBuildTicks: s => { s.ticks = p.xt.map(v => ({ value: v })); },
          afterFit: s => { s.height = XAX_H; s.paddingLeft = 0; s.paddingRight = 0; },
          grid: { color: '#bdbdbd', tickColor: '#333', tickLength: 4, lineWidth: 1 },
          border: { display: false },
          ticks: { font: tickFont, color: INK, padding: 5, maxRotation: 0, autoSkip: false, callback: v => fmt(v, 0) },
          title: { display: true, text: 'Episode [\u00d710\u00b3]', color: INK, font: labFont, padding: { top: 0, bottom: 2 } }
        },
        y: {
          type: 'linear', min: p.yr[0], max: p.yr[1],
          afterBuildTicks: s => { s.ticks = p.yt.map(v => ({ value: v })); },
          afterFit: s => { s.width = p.yW; s.paddingTop = 0; s.paddingBottom = 0; },
          grid: { color: '#bdbdbd', tickColor: '#333', tickLength: 4, lineWidth: 1 },
          border: { display: false },
          ticks: { font: tickFont, color: INK, padding: 5, autoSkip: false, callback: v => fmt(v, p.dec || 0) },
          title: { display: !!p.yLabel, text: p.yLabel || '', color: INK, font: labFont, padding: { top: 9, bottom: 0 } }
        }
      }
    },
    plugins: [frame]
  });
}

const A = 0.25;
const yLab = 'Rew. (med., IQR)';

panel({
  box: { l: 63, t: 33, r: 312, b: 203 }, yW: 63, title: 'Maze, 5\u2074  (S)', yLabel: yLab,
  xr: [0, 100], yr: [-5.6, 10.2], xt: maze5XTicks, yt: mazeYTicks,
  datasets: [
    line(mz5S_red, COL.red, 1.5), line(mz5S_blue, COL.blue, 1.5), line(mz5S_green, COL.green),
    line(mz5S_purple, COL.purple), line(mz5S_black, COL.black), line(mz5S_brown, COL.brown), line(mz5S_orange, COL.orange),
    ...band(mz5S_purpleBand, COL.purple, A), ...band(mz5S_greenBand, COL.green, A), ...band(mz5S_orangeBand, COL.orange, A)
  ]
});

panel({
  box: { l: 359, t: 33, r: 607, b: 203 }, yW: 40, title: 'Maze, 5\u2074  (I)',
  xr: [0, 100], yr: [-5.6, 10.2], xt: maze5XTicks, yt: mazeYTicks,
  datasets: [
    line(mz5I_red, COL.red, 1.5), line(mz5I_blue, COL.blue, 1.5), line(mz5I_green, COL.green),
    line(mz5I_purple, COL.purple), line(mz5I_black, COL.black), line(mz5I_brown, COL.brown), line(mz5I_orange, COL.orange),
    ...band(mz5I_blueBand, COL.blue, A), ...band(mz5I_purpleBand, COL.purple, A), ...band(mz5I_greenBand, COL.green, A), ...band(mz5I_orangeBand, COL.orange, A)
  ]
});

panel({
  box: { l: 63, t: 296, r: 312, b: 470 }, yW: 63, title: 'Maze, 17\u00b9\u2070  (S)', yLabel: yLab,
  xr: [0, 150], yr: [-5.65, 10.45], xt: maze17XTicks, yt: mazeYTicks,
  datasets: [
    line(mz17S_red, COL.red, 1.4), line(mz17S_blue, COL.blue), line(mz17S_green, COL.green), line(mz17S_orange, COL.orange),
    ...band(mz17S_redBand, COL.red, A), ...band(mz17S_blueBand, COL.blue, A), ...band(mz17S_greenBand, COL.green, A), ...band(mz17S_orangeBand, COL.orange, A)
  ]
});

panel({
  box: { l: 359, t: 296, r: 607, b: 470 }, yW: 40, title: 'Maze, 17\u00b9\u2070  (I)',
  xr: [0, 150], yr: [-5.63, 10.06], xt: maze17XTicks, yt: mazeYTicks,
  datasets: [
    line(mz17I_red, COL.red), line(mz17I_green, COL.green), line(mz17I_blue, COL.blue), line(mz17I_orange, COL.orange),
    ...band(mz17I_redBand, COL.red, A), ...band(mz17I_blueBand, COL.blue, A), ...band(mz17I_greenBand, COL.green, A), ...band(mz17I_orangeBand, COL.orange, A)
  ]
});

panel({
  box: { l: 67, t: 563, r: 315, b: 737 }, yW: 67, title: 'Job Shop Scheduling, 10\u00b9\u2070  (S)', yLabel: yLab + ' [\u00d710\u2074]',
  xr: [0.5, 20], yr: [-6.67, 0.74], xt: jssXTicks, yt: jssYTicks,
  datasets: [
    line(jss_ref1, COL.c1, 1.4), line(jss_ref0, COL.c0, 1.6), line(jss_green, COL.green), line(jss_orange, COL.orange),
    ...band(jss_ref0Band, COL.c0, 0.3), ...band(jss_greenBand, COL.green, A), ...band(jss_orangeBand, COL.orange, A)
  ]
});

panel({
  box: { l: 370, t: 565, r: 613, b: 735 }, yW: 45, title: 'Joint Replenishment, 67\u00b2\u2070  (S)',
  xr: [0.5, 30], yr: [-41.5, -32.43], xt: jrXTicks, yt: jrYTicks,
  datasets: [
    line(jr_red, COL.red), line(jr_green, COL.green), line(jr_orange, COL.orange), line(jr_blue, COL.blue),
    ...band(jr_redBand, COL.red, A), ...band(jr_blueBand, COL.blue, A), ...band(jr_greenBand, COL.green, A), ...band(jr_orangeBand, COL.orange, A)
  ]
});

panel({
  box: { l: 67, t: 830, r: 312, b: 1002 }, yW: 67, title: 'Recommender, 343\u00b9  (S)', yLabel: yLab + ' [\u00d710\u00b3]',
  xr: [3, 200], yr: [0.25, 1.92], xt: rec1XTicks, yt: recYTicks, dec: 1,
  datasets: [
    line(rec1_red, COL.red), line(rec1_green, COL.green, 1.4), line(rec1_blue, COL.blue, 1.4), line(rec1_orange, COL.orange, 1.4),
    line(rec1_black, COL.black), line(rec1_brown, COL.brown, 1.4), line(rec1_purple, COL.purple),
    ...band(rec1_redBand, COL.red, 0.1), ...band(rec1_blueBand, COL.blue, 0.15), ...band(rec1_greenBand, COL.green, 0.15),
    ...band(rec1_orangeBand, COL.orange, 0.15), ...band(rec1_brownBand, COL.brown, 0.15), ...band(rec1_blackBand, COL.black, 0.1), ...band(rec1_purpleBand, COL.purple, 0.12)
  ]
});

panel({
  box: { l: 362, t: 830, r: 608, b: 1002 }, yW: 45, title: 'Recommender, 343\u00b9\u2070  (S)',
  xr: [3, 300], yr: [0.36, 1.87], xt: rec10XTicks, yt: recYTicks, dec: 1,
  datasets: [
    line(rec10_red, COL.red), line(rec10_blue, COL.blue, 1.4), line(rec10_green, COL.green, 1.4), line(rec10_orange, COL.orange, 1.4),
    ...band(rec10_redBand, COL.red, 0.15), ...band(rec10_blueBand, COL.blue, 0.15)
  ]
});

// legend (two columns, filled column-wise)
const legendColors = [COL.red, COL.blue, COL.purple, COL.brown, COL.orange, COL.black, COL.green];
methodNames.forEach((name, i) => {
  const col = i < 4 ? 0 : 1;
  const row = i < 4 ? i : i - 4;
  const el = document.createElement('div');
  el.className = 'leg';
  el.style.left = (col ? 283 : 43) + 'px';
  el.style.top = (1068 + row * 29) + 'px';
  el.innerHTML = `<span class="mk" style="--c:${legendColors[i]}"></span><span class="txt">${name}</span>`;
  page.appendChild(el);
});
</script>
</body>
</html>
